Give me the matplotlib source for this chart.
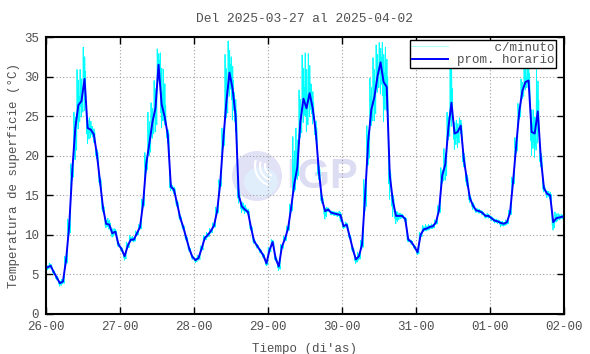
import numpy as np
import matplotlib
matplotlib.use('Agg')
from matplotlib import pyplot as plt
from matplotlib.patches import Ellipse, Arc

plt.rcParams['font.family'] = ['Liberation Mono', 'DejaVu Sans Mono']

# hourly means (prom. horario), one list per day, hours 0..23
d26 = [5.9, 6.1, 5.3, 4.6, 3.9, 4.1, 6.8, 11.0, 18.0, 23.5, 26.4, 26.9,
       29.7, 23.5, 23.3, 22.7, 20.2, 16.8, 13.4, 11.4, 11.3, 10.2, 10.4, 8.8]
d27 = [8.2, 7.3, 8.6, 9.4, 9.4, 10.2, 11.0, 14.0, 18.9, 21.5, 24.2, 26.0,
       31.5, 26.5, 24.9, 22.6, 16.1, 15.7, 14.0, 12.2, 11.0, 9.6, 8.2, 7.2]
d28 = [6.8, 7.1, 8.3, 9.6, 10.0, 10.5, 11.2, 13.0, 16.5, 22.0, 26.8, 30.5,
       28.5, 25.0, 15.0, 13.6, 13.2, 12.9, 10.9, 9.2, 8.6, 8.0, 7.4, 6.4]
d29 = [8.1, 9.1, 7.0, 6.0, 8.5, 9.5, 10.8, 13.4, 16.4, 18.5, 24.3, 27.2,
       26.0, 27.9, 26.0, 23.0, 18.0, 14.5, 13.0, 13.2, 12.8, 12.7, 12.6, 12.5]
d30 = [11.1, 11.3, 9.8, 8.2, 6.9, 7.3, 8.8, 15.0, 21.8, 25.8, 27.4, 30.0,
       31.8, 29.3, 28.7, 17.5, 14.3, 12.4, 12.4, 12.4, 12.0, 9.4, 9.1, 8.5]
d31 = [7.8, 10.0, 10.7, 10.8, 11.0, 11.1, 11.6, 13.2, 17.5, 18.9, 23.5, 26.7,
       22.8, 23.0, 23.8, 19.6, 17.0, 14.6, 13.7, 13.1, 13.0, 12.8, 12.4, 12.4]
d01 = [12.1, 11.8, 11.7, 11.5, 11.4, 11.6, 12.8, 16.8, 21.3, 25.6, 28.2, 29.3,
       29.5, 23.0, 22.8, 25.6, 19.6, 15.9, 15.2, 15.0, 11.6, 12.1, 12.2, 12.3]

# spread of the per-minute readings above / below each hourly mean
up26 = [.3, .3, .3, .3, .4, .3, .5, 1, 1, 2, 4.5, 4, 4, 1.5, 1.5, 1, .8, .6, .5, .6, .8, .8, .4, .3]
dn26 = [.3, .3, .3, .3, .4, .3, .5, 1, 1, 4, 3, 2, 4, 2, 1, 1, .6, .5, .5, .5, .6, .5, .4, .3]
up27 = [.3, .3, .5, .5, .4, .3, .3, .5, 1.5, 4, 2.5, 3.5, 2, 6.5, 6, 1, .6, .5, .4, .3, .3, .3, .3, .3]
dn27 = [.3, .5, .3, .3, .3, .3, .3, .5, 1, 1.5, 2, 3, 2, 3, 1, 1, .5, .5, .4, .3, .3, .3, .3, .3]
up28 = [.3, .3, .3, .3, .3, .3, .3, .5, .5, 1.5, 6, 4, 4, 3, 1, .8, .8, .5, .3, .3, .3, .3, .3, .3]
dn28 = [.3, .3, .3, .3, .3, .3, .3, .3, .5, 1, 2, 3, 4, 2, 1, .8, .5, .3, .3, .3, .3, .3, .3, .3]
up29 = [.3, .3, .3, .3, .3, .3, .3, .5, 6, 5, 4, 5.5, 7, 5, 3, 2, 1, .5, .5, .3, .3, .3, .3, .5]
dn29 = [.3, .3, .3, .5, .3, .3, .3, .5, 1, 1.5, 2, 3, 3, 3, 2, 1, 1, .5, 1, .3, .3, .3, .3, .8]
up30 = [.3, .3, .3, .3, .3, .5, .5, 2, 2, 4, 5, 4, 2.5, 5, 5, 1, 1, .8, .5, .3, .3, .3, .3, .3]
dn30 = [.3, .3, .3, .3, .5, .5, .5, 2, 3, 2, 3, 2, 4, 5, 3, 3, 2, 1, .5, .3, .3, .3, .3, .3]
up31 = [.3, .3, .5, .5, .3, .3, .3, .5, 1, 2, 2, 7, 2, 1.5, 1, 1, .8, .5, .5, .3, .3, .3, .3, .3]
dn31 = [.3, .3, .3, .3, .3, .3, .3, .5, 1, 2, 1.5, 3, 2, 2, 1, 1, .8, .5, .5, .3, .3, .3, .3, .3]
up01 = [.3, .3, .3, .3, .3, .3, .3, .5, 1, 1, 1.5, 2.5, 3.5, 4, 3, 5.5, 1, .5, .5, .5, .5, .8, .5, .3]
dn01 = [.3, .3, .3, .5, .3, .3, .3, .5, 1, 1, 1, 1, 1, 3, 3, 4, 1, .5, .5, .5, 1, .5, .3, .3]

day_labels = ['26-00', '27-00', '28-00', '29-00', '30-00', '31-00', '01-00', '02-00']

hourly = np.array(d26 + d27 + d28 + d29 + d30 + d31 + d01)
up = np.array(up26 + up27 + up28 + up29 + up30 + up31 + up01)
dn = np.array(dn26 + dn27 + dn28 + dn29 + dn30 + dn31 + dn01)
t_hour = (np.arange(len(hourly)) + 0.5) / 24.0

# per-minute trace: swings between the high and low of each hour
swing = [1.0, -0.35, 0.4, -1.0, 0.7, -0.5, 0.25, -0.7]
t_min = []
v_min = []
for i in range(len(hourly)):
    for k, f in enumerate(swing):
        t_min.append((i + (k + 0.5) / len(swing)) / 24.0)
        if f > 0:
            v_min.append(hourly[i] + f * up[i])
        else:
            v_min.append(hourly[i] + f * dn[i])

fig = plt.figure(figsize=(5.9, 3.54), dpi=100)
ax = fig.add_axes([46 / 590, 40 / 354, 518 / 590, 277 / 354])

# IGP watermark
cx, cy = (257 - 46) / 518, (314 - 176) / 277
ax.add_patch(Ellipse((cx, cy), 50 / 518, 50 / 277, transform=ax.transAxes,
                     facecolor='#e2e2f6', edgecolor='none', zorder=0))
ax.add_patch(Ellipse((cx + 4 / 518, cy - 6 / 277), 34 / 518, 30 / 277, transform=ax.transAxes,
                     facecolor='#e0eefc', edgecolor='none', zorder=0))
for r in (20, 30, 40):
    ax.add_patch(Arc((cx + 18 / 518, cy + 10 / 277), r / 518, r / 277, theta1=150, theta2=260,
                     transform=ax.transAxes, color='white', lw=1.5, zorder=0))
ax.text((322 - 46) / 518, (314 - 177) / 277, 'IGP', transform=ax.transAxes,
        family='Liberation Sans', fontweight='bold', fontsize=30, color='#dcdcf2',
        ha='center', va='center', zorder=0)

ax.plot(t_min, v_min, color='#00ffff', lw=0.6, zorder=2)
ax.plot([], [], color='#b0ffff', lw=0.8, label='     c/minuto')
ax.plot(t_hour, hourly, color='#0000ff', lw=1.4, label='prom. horario', zorder=3)

ax.set_xlim(0, 7)
ax.set_ylim(0, 35)
ax.set_xticks(range(8))
ax.set_xticklabels(day_labels)
ax.set_yticks(range(0, 36, 5))
ax.grid(True, color='#a0a0a0', linestyle=(0, (1, 2)), lw=0.8)
ax.set_axisbelow(True)
ax.tick_params(direction='in', length=5, width=1, top=True, right=True,
               labelsize=9, colors='#505050', pad=5)
ax.tick_params(axis='both', color='black')
for s in ax.spines.values():
    s.set_linewidth(1.5)

ax.set_xlabel("Tiempo (di'as)", fontsize=9, color='#505050', labelpad=7)
ax.set_ylabel('Temperatura de superficie (°C)', fontsize=9, color='#505050', labelpad=3)
ax.set_title('Del 2025-03-27 al 2025-04-02', fontsize=9.3, color='#505050', pad=11)

leg = ax.legend(loc='upper right', bbox_to_anchor=(0.985, 0.99), borderaxespad=0,
                fancybox=False, edgecolor='black', framealpha=1, fontsize=9,
                handlelength=2.9, borderpad=0.15, labelspacing=0.05, handletextpad=0.7)
leg.get_frame().set_linewidth(1)
for txt in leg.get_texts():
    txt.set_color('#505050')

plt.savefig('out.png', dpi=100)
